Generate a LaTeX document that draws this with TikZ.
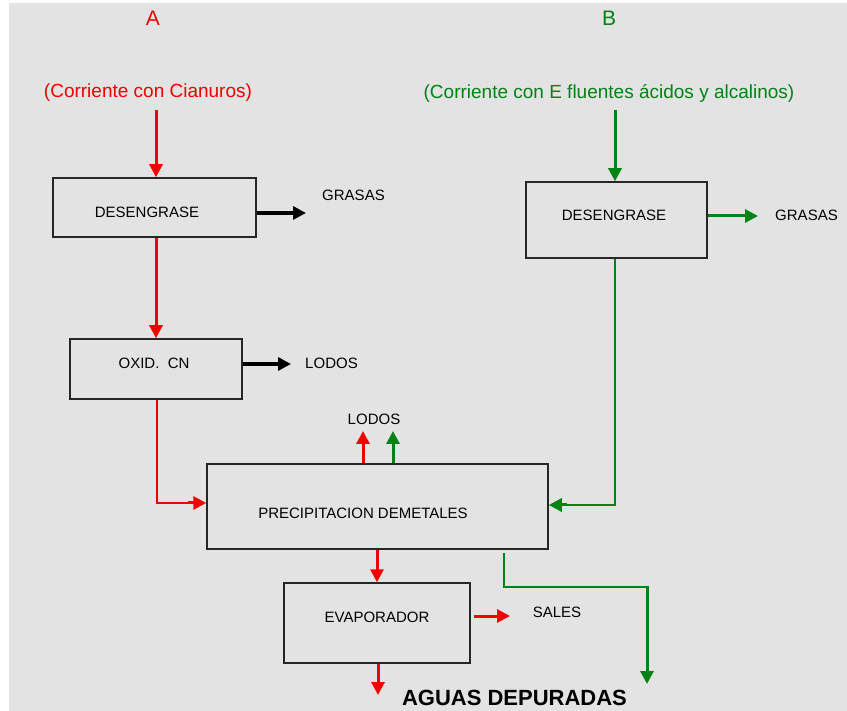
\documentclass[tikz,border=0pt]{standalone}
\usepackage{fontspec}
\setmainfont{Liberation Sans}
\usetikzlibrary{arrows.meta}
\definecolor{rd}{RGB}{240,0,0}
\definecolor{gn}{RGB}{0,130,20}
\definecolor{bg}{RGB}{227,227,227}
\begin{document}
\begin{tikzpicture}[x=1pt,y=-1pt,
  box/.style={draw=black!85, line width=1.5pt, inner sep=0pt},
  lbl/.style={font=\fontsize{15}{18}\selectfont, text=black, inner sep=0pt},
  big/.style={font=\fontsize{19}{22}\selectfont, inner sep=0pt},
  huge/.style={font=\fontsize{21}{24}\selectfont, inner sep=0pt},
  tip/.style={-{Triangle[length=13pt,width=13pt]}},
  rarr/.style={draw=rd, line width=3pt, tip},
  garr/.style={draw=gn, line width=3pt, tip},
  karr/.style={draw=black, line width=3.5pt, tip},
  rthin/.style={draw=rd, line width=2pt},
  gthin/.style={draw=gn, line width=2pt}]
\useasboundingbox (0,0) rectangle (847,711);
\fill[bg] (9,3) rectangle (847,711);

% titles
\node[huge, text=rd] (labA) at (153,18) {A};
\node[huge, text=gn] (labB) at (609,18) {B};
\node[big, text=rd] (srcA) at (148,93) {(Corriente con Cianuros)};
\node[big, text=gn] (srcB) at (609,93) {(Corriente con E fluentes ácidos y alcalinos)};

% boxes
\node[box, minimum width=203pt, minimum height=59pt] (desA) at (154.5,207.5) {};
\node[box, minimum width=172pt, minimum height=60pt] (oxid) at (156,369) {};
\node[box, minimum width=341pt, minimum height=85pt] (prec) at (377.5,506.5) {};
\node[box, minimum width=181pt, minimum height=76pt] (desB) at (616.5,220) {};
\node[box, minimum width=186pt, minimum height=80pt] (evap) at (377,623) {};

% box texts
\node[lbl] (tdesA) at (147,212) {DESENGRASE};
\node[lbl] (toxid) at (154,363) {OXID.\ \ CN};
\node[lbl] (tprec) at (363,513) {PRECIPITACION DEMETALES};
\node[lbl] (tdesB) at (614,215) {DESENGRASE};
\node[lbl] (tevap) at (377,617) {EVAPORADOR};

% outside labels
\node[lbl] (grasA) at (353.5,195.5) {GRASAS};
\node[lbl] (lodA) at (331.5,363) {LODOS};
\node[lbl] (lodP) at (374,419) {LODOS};
\node[lbl] (grasB) at (806.5,215) {GRASAS};
\node[lbl] (sales) at (557,612) {SALES};
\node[font=\fontsize{22}{26}\selectfont\bfseries, inner sep=0pt] (aguas) at (514.5,698) {AGUAS DEPURADAS};

% free ends
\coordinate (inA) at (156,110);
\coordinate (inB) at (615,110);
\coordinate (grA) at (306,213);
\coordinate (loA) at (291,364);
\coordinate (grB) at (758,216);
\coordinate (c1) at (157,503);
\coordinate (g1) at (615,505);
\coordinate (ur) at (363,431);
\coordinate (ug) at (393,431);
\coordinate (sa) at (510,616);
\coordinate (out) at (378,695);
\coordinate (g2) at (504,587);
\coordinate (g3) at (647,684);

% branch A
\draw[rarr] (inA) -- (inA |- desA.north);
\draw[karr] (grA -| desA.east) -- (grA);
\draw[rarr] (desA.south -| inA) -- (oxid.north -| inA);
\draw[karr] (loA -| oxid.east) -- (loA);
\draw[rthin] (oxid.south -| c1) -- (c1) -- ([xshift=-16pt]c1 -| prec.west);
\draw[rarr] ([xshift=-18pt]c1 -| prec.west) -- (c1 -| prec.west);

% branch B
\draw[garr] (inB) -- (inB |- desB.north);
\draw[garr] (grB -| desB.east) -- (grB);
\draw[gthin] (desB.south -| g1) -- (g1) -- ([xshift=16pt]g1 -| prec.east);
\draw[garr] ([xshift=18pt]g1 -| prec.east) -- (g1 -| prec.east);

% precipitation outputs
\draw[rarr] (ur |- prec.north) -- (ur);
\draw[garr] (ug |- prec.north) -- (ug);
\draw[rarr] (prec.south -| evap.north) -- (evap.north);
\draw[gthin, shorten <=3pt] (prec.south -| g2) -- (g2) -- (g2 -| g3);
\draw[garr] ([yshift=1pt]g2 -| g3) -- (g3);

% evaporator outputs
\draw[rarr, shorten <=3pt] (sa -| evap.east) -- (sa);
\draw[rarr] (evap.south -| out) -- (out);
\end{tikzpicture}
\end{document}
